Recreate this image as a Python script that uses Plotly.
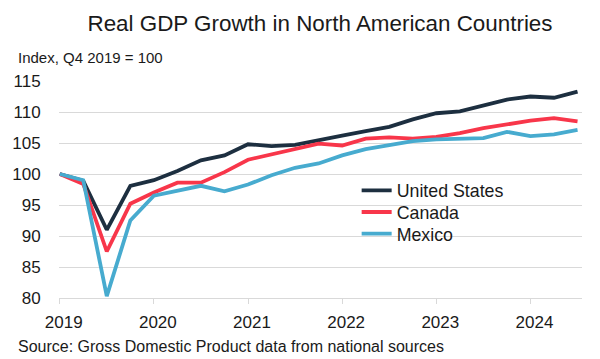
import plotly.graph_objects as go

# ---- data (index, Q4 2019 = 100), quarterly Q4 2019 .. Q2 2025 ----
quarters = ["Q4 2019", "Q1 2020", "Q2 2020", "Q3 2020", "Q4 2020",
            "Q1 2021", "Q2 2021", "Q3 2021", "Q4 2021",
            "Q1 2022", "Q2 2022", "Q3 2022", "Q4 2022",
            "Q1 2023", "Q2 2023", "Q3 2023", "Q4 2023",
            "Q1 2024", "Q2 2024", "Q3 2024", "Q4 2024",
            "Q1 2025", "Q2 2025"]
united_states = [100.0, 98.9, 91.0, 98.1, 99.0, 100.5, 102.2, 103.0, 104.8,
                 104.5, 104.7, 105.5, 106.2, 106.9, 107.6, 108.8, 109.8,
                 110.1, 111.1, 112.0, 112.5, 112.3, 113.3]
canada = [100.0, 98.4, 87.5, 95.2, 97.0, 98.6, 98.6, 100.3, 102.3,
          103.2, 104.1, 104.9, 104.6, 105.7, 105.9, 105.7, 106.0,
          106.6, 107.4, 108.0, 108.6, 109.0, 108.5]
mexico = [100.0, 99.0, 80.3, 92.5, 96.5, 97.3, 98.1, 97.2, 98.3,
          99.8, 101.0, 101.7, 103.0, 104.0, 104.7, 105.3, 105.6,
          105.7, 105.8, 106.8, 106.1, 106.4, 107.1]
year_tick_positions = [0, 4, 8, 12, 16, 20]
year_tick_labels = ["2019", "2020", "2021", "2022", "2023", "2024"]
y_ticks = [80, 85, 90, 95, 100, 105, 110, 115]

series = [
    ("United States", united_states, "#1d2f40"),
    ("Canada", canada, "#f8364a"),
    ("Mexico", mexico, "#47abcf"),
]

FONT = "Liberation Sans, Arial, sans-serif"
TXT = "#1a1a1a"
GRID = "#d9d9d9"

W, H = 600, 359
L, R, T, B = 55.3, 18.1, 80.7, 61.0
PW, PH = W - L - R, H - T - B


def px_x(p):
    return (p - L) / PW


def px_y(p):
    return (H - B - p) / PH


idx = list(range(len(quarters)))
legend_ids = ["legend", "legend2", "legend3"]
legend_rows = [190.7, 212.3, 234.0]

fig = go.Figure()
for (name, vals, col), lid in zip(series, legend_ids):
    fig.add_trace(go.Scatter(
        x=idx, y=vals, name=name, mode="lines",
        line=dict(color=col, width=3.8),
        customdata=quarters, legend=lid,
        hovertemplate="%{customdata}: %{y:.1f}<extra>" + name + "</extra>",
    ))

legend_common = dict(xanchor="left", yanchor="middle",
                     bgcolor="rgba(0,0,0,0)",
                     font=dict(size=17.8, color=TXT, family=FONT),
                     itemwidth=30)
legends = {}
for lid, row in zip(legend_ids, legend_rows):
    legends[lid] = dict(x=px_x(355), y=px_y(row), **legend_common)

fig.update_layout(
    width=W, height=H,
    margin=dict(l=L, r=R, t=T, b=B, pad=0),
    paper_bgcolor="white", plot_bgcolor="white",
    font=dict(family=FONT, size=16, color=TXT),
    title=dict(text="Real GDP Growth in North American Countries",
               x=320 / W, xanchor="center", xref="container",
               y=1 - 23 / H, yanchor="middle", yref="container",
               font=dict(size=22.4, color=TXT, family=FONT)),
    showlegend=True,
    xaxis=dict(range=[-0.03, 22.19], tickmode="array",
               tickvals=year_tick_positions, ticktext=year_tick_labels,
               showgrid=False, zeroline=False,
               showline=True, linecolor=GRID, linewidth=1,
               ticks="outside", ticklen=5, tickcolor=GRID, tickwidth=1,
               tickfont=dict(size=17, color=TXT),
               ticklabelshift=4, ticklabelstandoff=4),
    yaxis=dict(range=[80, 115], tickmode="array", tickvals=y_ticks,
               showgrid=True, gridcolor=GRID, gridwidth=1,
               zeroline=False, showline=False,
               ticks="outside", ticklen=14, tickcolor="rgba(0,0,0,0)",
               tickfont=dict(size=17, color=TXT)),
    annotations=[
        dict(text="Index, Q4 2019 = 100", xref="paper", yref="paper",
             x=px_x(12), y=px_y(57), xanchor="left", yanchor="middle",
             showarrow=False, font=dict(size=15, color=TXT)),
        dict(text="Source: Gross Domestic Product data from national sources",
             xref="paper", yref="paper",
             x=px_x(12), y=px_y(346.5), xanchor="left", yanchor="middle",
             showarrow=False, font=dict(size=16, color=TXT)),
    ],
    **legends,
)

fig.write_html(
    "out.html",
    config={"displayModeBar": False},
    post_script="document.body.style.margin='0';document.body.style.padding='0';",
)
